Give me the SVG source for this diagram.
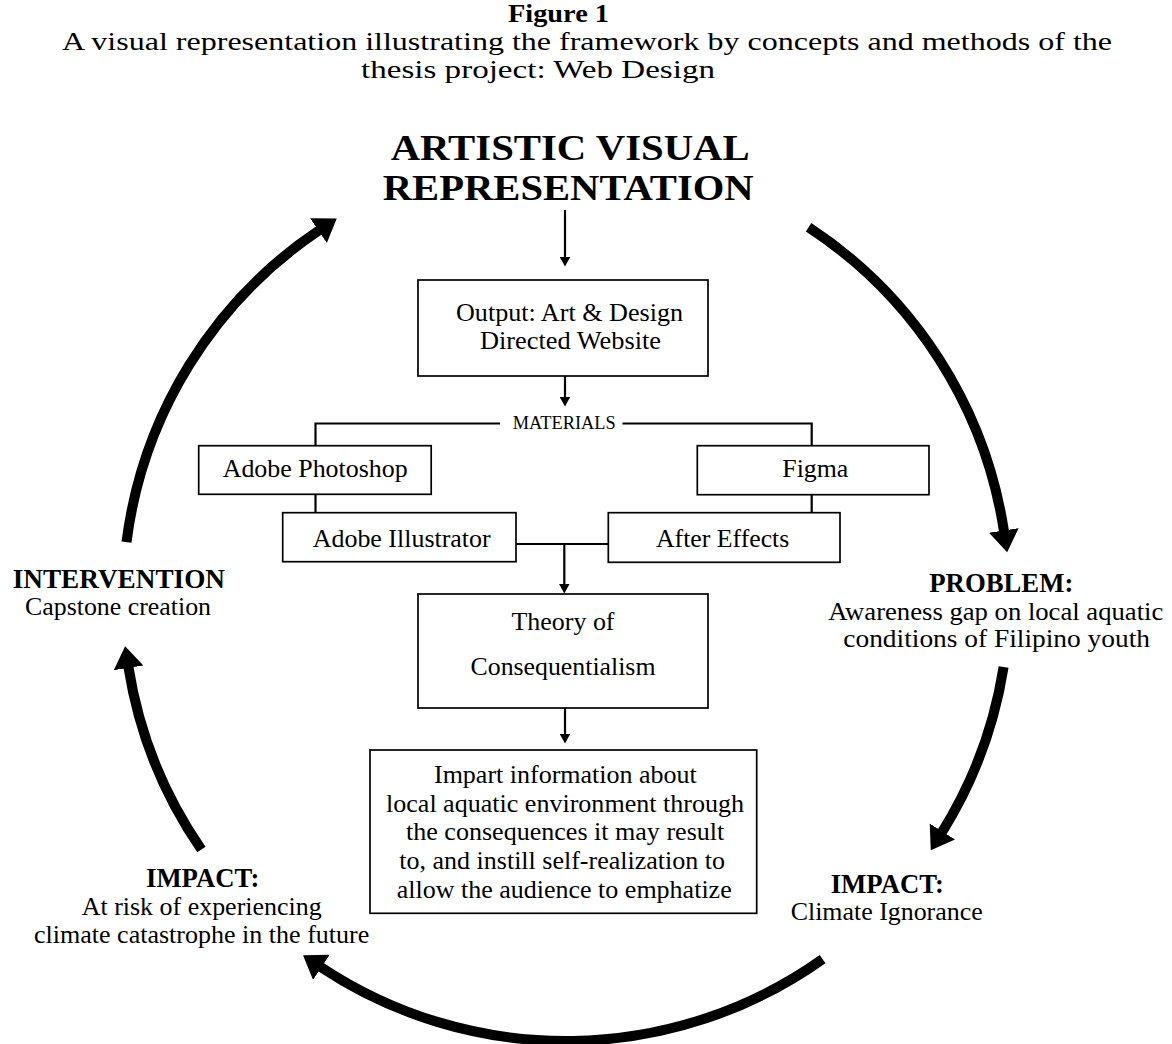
<svg xmlns="http://www.w3.org/2000/svg" width="1172" height="1044" viewBox="0 0 1172 1044">
<style>
text{font-family:"Liberation Serif","Times New Roman",serif;fill:#000}
.t{font-size:25px}
.tb{font-size:26px;font-weight:bold}
.big{font-size:36px;font-weight:bold}
.lb{font-size:27px;font-weight:bold}
.b{font-size:26px}
.sm{font-size:18px}
.box{fill:#fff;stroke:#000;stroke-width:1.7}
.conn{fill:none;stroke:#000;stroke-width:2.2}
.arc{fill:none;stroke:#000;stroke-width:10}
</style>
<defs>
<marker id="ah" markerUnits="userSpaceOnUse" markerWidth="11" markerHeight="11" refX="0.5" refY="5.5" orient="auto"><path d="M0,0 L10,5.5 L0,11 z" fill="#000"/></marker>
<marker id="big" markerUnits="userSpaceOnUse" markerWidth="24" markerHeight="32" refX="1" refY="15" orient="auto"><path d="M0,0 L22,15 L0,30 z" fill="#000"/></marker>
</defs>
<rect width="1172" height="1044" fill="#fff"/>
<g id="title">
<text class="tb" x="508" y="22" textLength="101" lengthAdjust="spacingAndGlyphs">Figure 1</text>
<text class="t" x="62" y="50" textLength="1050" lengthAdjust="spacingAndGlyphs">A visual representation illustrating the framework by concepts and methods of the</text>
<text class="t" x="361" y="78" textLength="354" lengthAdjust="spacingAndGlyphs">thesis project: Web Design</text>
</g>
<g id="connectors">
<path class="conn" d="M565,210 V257" marker-end="url(#ah)"/>
<path class="conn" d="M565,376 V397" marker-end="url(#ah)"/>
<path class="conn" d="M500,423.5 H315.5 V446"/>
<path class="conn" d="M622.5,423.5 H811.7 V446"/>
<path class="conn" d="M315.5,494 V513"/>
<path class="conn" d="M811.7,494.5 V513"/>
<path class="conn" d="M516,544 H608.3"/>
<path class="conn" d="M564.3,544 V584" marker-end="url(#ah)"/>
<path class="conn" d="M565,708 V734" marker-end="url(#ah)"/>
<path class="arc" d="M126.5,542.1 A443,443 0 0 1 319.3,230.1" marker-end="url(#big)"/>
<path class="arc" d="M808.6,227.3 A443,443 0 0 1 1004,531.4" marker-end="url(#big)"/>
<path class="arc" d="M1003.6,667 A443,443 0 0 1 941.9,832.4" marker-end="url(#big)"/>
<path class="arc" d="M822.6,959.1 A443,443 0 0 1 320.5,966.8" marker-end="url(#big)"/>
<path class="arc" d="M201.4,849.5 A443,443 0 0 1 128.4,666.9" marker-end="url(#big)"/>
</g>
<g id="artistic">
<text class="big" x="390.7" y="160" textLength="359" lengthAdjust="spacingAndGlyphs">ARTISTIC VISUAL</text>
<text class="big" x="382.7" y="199.5" textLength="371" lengthAdjust="spacingAndGlyphs">REPRESENTATION</text>
</g>
<g id="output">
<rect class="box" x="418" y="280" width="290" height="96"/>
<text class="b" x="456" y="321" textLength="227" lengthAdjust="spacingAndGlyphs">Output: Art &amp; Design</text>
<text class="b" x="480" y="349" textLength="181" lengthAdjust="spacingAndGlyphs">Directed Website</text>
</g>
<g id="materials">
<text class="sm" x="512.7" y="428.5" textLength="103" lengthAdjust="spacingAndGlyphs">MATERIALS</text>
</g>
<g id="photoshop">
<rect class="box" x="198.7" y="445.7" width="232.5" height="48.6"/>
<text class="b" x="222.7" y="477" textLength="185" lengthAdjust="spacingAndGlyphs">Adobe Photoshop</text>
</g>
<g id="illustrator">
<rect class="box" x="282.7" y="512.7" width="233.3" height="49"/>
<text class="b" x="312.7" y="547" textLength="178" lengthAdjust="spacingAndGlyphs">Adobe Illustrator</text>
</g>
<g id="figma">
<rect class="box" x="697.3" y="445.7" width="231.7" height="49"/>
<text class="b" x="782.3" y="477" textLength="66" lengthAdjust="spacingAndGlyphs">Figma</text>
</g>
<g id="aftereffects">
<rect class="box" x="608.3" y="512.7" width="231.7" height="49.6"/>
<text class="b" x="656" y="546.5" textLength="133.3" lengthAdjust="spacingAndGlyphs">After Effects</text>
</g>
<g id="theory">
<rect class="box" x="418" y="594" width="290" height="114"/>
<text class="b" x="511.5" y="630" textLength="103" lengthAdjust="spacingAndGlyphs">Theory of</text>
<text class="b" x="470.5" y="675" textLength="185" lengthAdjust="spacingAndGlyphs">Consequentialism</text>
</g>
<g id="impart">
<rect class="box" x="370" y="750" width="386.7" height="163.3"/>
<text class="b" x="434" y="783.3" textLength="262.7" lengthAdjust="spacingAndGlyphs">Impart information about</text>
<text class="b" x="386" y="811.7" textLength="358" lengthAdjust="spacingAndGlyphs">local aquatic environment through</text>
<text class="b" x="406" y="840" textLength="318.3" lengthAdjust="spacingAndGlyphs">the consequences it may result</text>
<text class="b" x="399.3" y="869" textLength="325.7" lengthAdjust="spacingAndGlyphs">to, and instill self-realization to</text>
<text class="b" x="396.7" y="898.3" textLength="335" lengthAdjust="spacingAndGlyphs">allow the audience to emphatize</text>
</g>
<g id="intervention">
<text class="lb" x="12.7" y="587.7" textLength="212.3" lengthAdjust="spacingAndGlyphs">INTERVENTION</text>
<text class="b" x="25" y="615" textLength="186" lengthAdjust="spacingAndGlyphs">Capstone creation</text>
</g>
<g id="problem">
<text class="lb" x="929.3" y="591.7" textLength="144" lengthAdjust="spacingAndGlyphs">PROBLEM:</text>
<text class="b" x="828.3" y="620" textLength="335" lengthAdjust="spacingAndGlyphs">Awareness gap on local aquatic</text>
<text class="b" x="843.3" y="646.7" textLength="306.7" lengthAdjust="spacingAndGlyphs">conditions of Filipino youth</text>
</g>
<g id="impact-right">
<text class="lb" x="830.7" y="892.7" textLength="113.3" lengthAdjust="spacingAndGlyphs">IMPACT:</text>
<text class="b" x="790.7" y="920" textLength="192" lengthAdjust="spacingAndGlyphs">Climate Ignorance</text>
</g>
<g id="impact-left">
<text class="lb" x="146" y="886.7" textLength="113.3" lengthAdjust="spacingAndGlyphs">IMPACT:</text>
<text class="b" x="81.7" y="915" textLength="240" lengthAdjust="spacingAndGlyphs">At risk of experiencing</text>
<text class="b" x="34" y="942.7" textLength="335.3" lengthAdjust="spacingAndGlyphs">climate catastrophe in the future</text>
</g>
</svg>
